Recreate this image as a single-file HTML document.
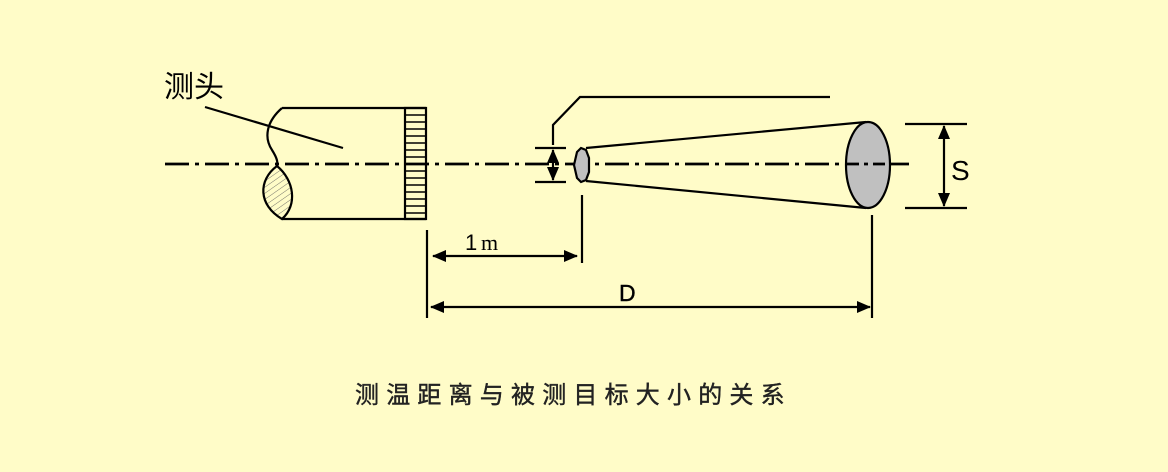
<!DOCTYPE html>
<html><head><meta charset="utf-8"><style>
html,body{margin:0;padding:0;background:#FFFCC8;}
svg{display:block;}
</style></head><body>
<svg width="1168" height="472" viewBox="0 0 1168 472" xmlns="http://www.w3.org/2000/svg">
<defs>
<marker id="a" markerWidth="14" markerHeight="12" refX="13" refY="6" orient="auto-start-reverse" markerUnits="userSpaceOnUse">
<path d="M0,0 L14,6 L0,12 Z" fill="#000"/>
</marker>
<pattern id="h" width="5" height="5" patternUnits="userSpaceOnUse" patternTransform="rotate(-35)">
<line x1="0" y1="0" x2="5" y2="0" stroke="#555" stroke-width="0.8"/>
</pattern>
</defs>
<rect width="1168" height="472" fill="#FFFCC8"/>
<g stroke="#000" fill="none" stroke-width="2.2">
<line x1="165" y1="164" x2="912" y2="164" stroke-width="2.8" stroke-dasharray="24,6,4,6"/>
<line x1="282" y1="108" x2="426" y2="108"/>
<line x1="282" y1="219" x2="426" y2="219"/>
<path d="M282,108 C266,122 264,138 272,150 C277,158 278,162 277,166"/>
<path d="M277,166 C258,180 258,205 282,219 C298,205 294,180 277,166 Z" fill="url(#h)"/>
<rect x="405" y="108" width="21" height="111"/>
<g stroke-width="1.5">
<line x1="405" y1="115" x2="426" y2="115"/><line x1="405" y1="122" x2="426" y2="122"/>
<line x1="405" y1="129" x2="426" y2="129"/><line x1="405" y1="136" x2="426" y2="136"/>
<line x1="405" y1="143" x2="426" y2="143"/><line x1="405" y1="150" x2="426" y2="150"/>
<line x1="405" y1="157" x2="426" y2="157"/><line x1="405" y1="171" x2="426" y2="171"/>
<line x1="405" y1="178" x2="426" y2="178"/><line x1="405" y1="185" x2="426" y2="185"/>
<line x1="405" y1="192" x2="426" y2="192"/><line x1="405" y1="199" x2="426" y2="199"/>
<line x1="405" y1="206" x2="426" y2="206"/><line x1="405" y1="213" x2="426" y2="213"/>
</g>
<line x1="205" y1="107" x2="343" y2="148"/>
<line x1="535" y1="148" x2="566" y2="148"/>
<line x1="535" y1="182" x2="566" y2="182"/>
<line x1="553" y1="150" x2="553" y2="180" marker-start="url(#a)" marker-end="url(#a)"/>
<polyline points="553,145 553,125 580,97 830,97"/>
<path d="M581,148 L586,150 L589,158 L589,172 L586,180 L581,182 L577,178 L574,165 L577,152 Z" fill="#C0C0C0"/>
<line x1="586" y1="148" x2="866" y2="122"/>
<line x1="586" y1="181" x2="866" y2="208"/>
<ellipse cx="868" cy="165" rx="22" ry="43" fill="#C0C0C0"/>
<line x1="847" y1="164" x2="890" y2="164" stroke-width="2.8" stroke-dasharray="12,5,4,5"/>
<line x1="905" y1="124" x2="967" y2="124"/>
<line x1="905" y1="208" x2="967" y2="208"/>
<line x1="944" y1="126" x2="944" y2="206" marker-start="url(#a)" marker-end="url(#a)"/>
<line x1="427" y1="230" x2="427" y2="318"/>
<line x1="582" y1="195" x2="582" y2="263"/>
<line x1="872" y1="215" x2="872" y2="318"/>
<line x1="433" y1="256" x2="577" y2="256" marker-start="url(#a)" marker-end="url(#a)"/>
<line x1="431" y1="307" x2="870" y2="307" marker-start="url(#a)" marker-end="url(#a)"/>
</g>
<g font-family="'Liberation Sans','Noto Sans CJK SC',sans-serif" fill="#000">
<text x="164" y="97" font-size="30">测头</text>
<text x="951" y="180" font-size="28">S</text>
<text x="465" y="250" font-size="22">1</text>
<text x="481" y="250" font-size="22" font-family="'Liberation Serif',serif">m</text>
<text x="619" y="301" font-size="23" stroke="#000" stroke-width="0.4">D</text>
<text x="355" y="403" font-size="24" letter-spacing="7.2" fill="#222" stroke="#222" stroke-width="0.4">测温距离与被测目标大小的关系</text>
</g>
</svg>
</body></html>
